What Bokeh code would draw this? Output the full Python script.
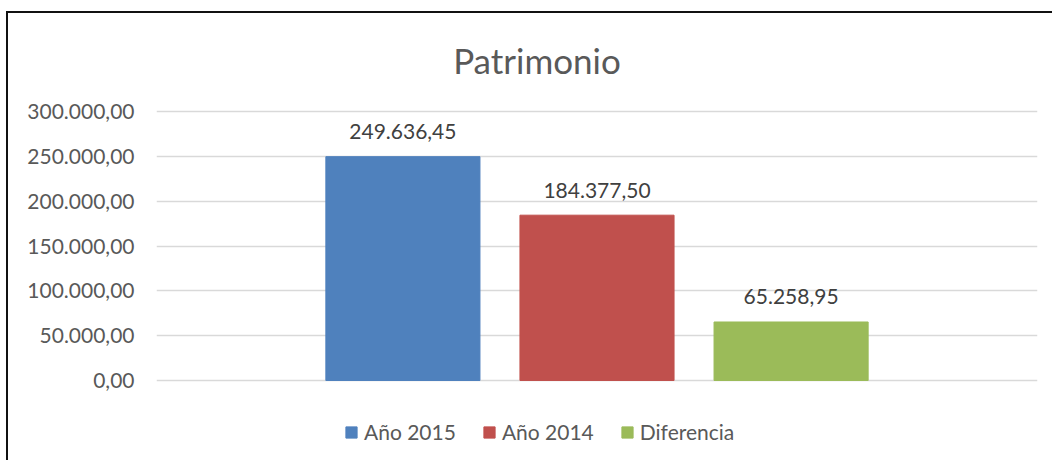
from bokeh.plotting import figure
from bokeh.models import (ColumnDataSource, FactorRange, Range1d, FixedTicker,
                          CustomJSTickFormatter, LabelSet, Label)
from bokeh.core.properties import value
from bokeh.embed import file_html
from bokeh.resources import INLINE

title_text = "Patrimonio"
series = ["Año 2015", "Año 2014", "Diferencia"]
values = [249636.45, 184377.50, 65258.95]
colors = ["#4F81BD", "#C0504D", "#9BBB59"]
y_ticks = [0, 50000, 100000, 150000, 200000, 250000, 300000]


def fmt(v):
    s = f"{v:,.2f}"
    return s.replace(",", "X").replace(".", ",").replace("X", ".")


labels = [fmt(v) for v in values]

FONT = "Lato"
TXT = "#595959"

# layout: 0 -> 269 px -> max tick; frame extends 92 px above top tick and 74 px below 0
PX = y_ticks[-1] / 269.0
y_start = -74 * PX
y_end = y_ticks[-1] + 92 * PX

src = ColumnDataSource(dict(names=series, values=values, colors=colors, labels=labels))

p = figure(x_range=FactorRange(*series, range_padding=0.513),
           y_range=Range1d(y_start, y_end),
           width=1046, height=449, output_backend="svg", toolbar_location=None,
           min_border_left=148, min_border_right=17, min_border_top=6, min_border_bottom=8)
p.styles = {"margin-top": "11px", "margin-left": "6px",
            "border-left": "2px solid #111", "border-top": "2px solid #111"}

p.outline_line_color = None
p.background_fill_color = "white"
p.border_fill_color = "white"
p.xgrid.grid_line_color = None
p.ygrid.grid_line_color = "#D9D9D9"
p.ygrid.grid_line_width = 1.3
p.xaxis.visible = False

yax = p.yaxis[0]
yax.ticker = FixedTicker(ticks=y_ticks)
yax.formatter = CustomJSTickFormatter(code="""
const s = tick.toFixed(2).split('.');
return s[0].replace(/\\B(?=(\\d{3})+(?!\\d))/g, '.') + ',' + s[1];
""")
yax.axis_line_color = None
yax.major_tick_line_color = None
yax.minor_tick_line_color = None
yax.major_tick_out = 0
yax.major_tick_in = 0
yax.major_label_standoff = 22
yax.major_label_text_font = FONT
yax.major_label_text_font_size = "21px"
yax.major_label_text_color = TXT

p.vbar(x="names", top="values", width=0.794, color="colors", source=src,
       legend_field="names")

p.add_layout(LabelSet(x="names", y="values", text="labels", source=src,
                      y_offset=25, text_align="center", text_baseline="middle",
                      text_font=value(FONT), text_font_size="21px", text_color="#404040"))

p.add_layout(Label(x=380.5, y=395, x_units="screen", y_units="screen", text=title_text,
                   text_align="center", text_baseline="middle",
                   text_font=FONT, text_font_size="35px", text_color=TXT))

leg = p.legend[0]
leg.location = (188, 10)
leg.orientation = "horizontal"
leg.glyph_width = 14
leg.glyph_height = 14
leg.label_standoff = 6
leg.spacing = 26
leg.padding = 0
leg.margin = 0
leg.border_line_color = None
leg.background_fill_alpha = 0
leg.label_text_font = FONT
leg.label_text_font_size = "21px"
leg.label_text_color = TXT

open("out.html", "w").write(file_html(p, INLINE))
